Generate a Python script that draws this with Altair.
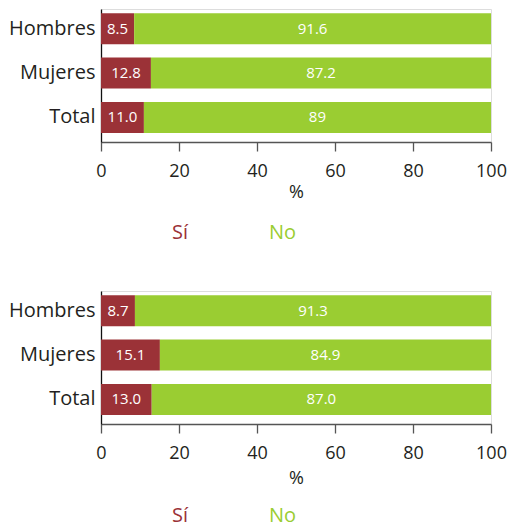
import altair as alt
import pandas as pd

FONT = "Open Sans"

groups = ["Hombres", "Mujeres", "Total"]
answers = ["Sí", "No"]
colors = ["#9b3237", "#9acd32"]

si_1 = [8.5, 12.8, 11.0]
no_1 = [91.6, 87.2, 89.0]
si_lab_1 = ["8.5", "12.8", "11.0"]
no_lab_1 = ["91.6", "87.2", "89"]

si_2 = [8.7, 15.1, 13.0]
no_2 = [91.3, 84.9, 87.0]
si_lab_2 = ["8.7", "15.1", "13.0"]
no_lab_2 = ["91.3", "84.9", "87.0"]

x_ticks = [0, 20, 40, 60, 80, 100]


def make_df(si, no, si_lab, no_lab):
    rows = []
    for g, s, n, sl, nl in zip(groups, si, no, si_lab, no_lab):
        rows.append(dict(grupo=g, resp="Sí", start=0.0, end=s, label=sl))
        rows.append(dict(grupo=g, resp="No", start=s, end=min(s + n, 100.0), label=nl))
    df = pd.DataFrame(rows)
    df["mid"] = (df["start"] + df["end"]) / 2
    return df


def panel(df, legend_y, title_pad):
    y_axis = alt.Axis(ticks=False, domainColor="#111111", domainWidth=1.3,
                      labelFontSize=20, labelColor="#231f20", labelPadding=6,
                      labelFont=FONT)
    y = alt.Y("grupo:N", sort=groups, title=None,
              scale=alt.Scale(paddingInner=0.3, paddingOuter=0.15, align=0.32),
              axis=y_axis)
    x_axis = alt.Axis(values=x_ticks, grid=False, tickSize=9, domainColor="#555555",
                      tickColor="#555555", domainWidth=1.3, tickWidth=1.3,
                      labelFontSize=18, labelColor="#231f20", labelPadding=11,
                      labelFlush=False, labelFont=FONT,
                      title="%", titleFontSize=18, titleFontWeight="normal",
                      titleColor="#231f20", titlePadding=title_pad, titleFont=FONT)
    legend = alt.Legend(orient="none", legendX=51, legendY=legend_y,
                        direction="horizontal", title=None,
                        symbolOpacity=0, symbolSize=0, symbolStrokeWidth=0,
                        labelOffset=0, columnPadding=60,
                        labelFontSize=20, labelFont=FONT,
                        labelColor={"expr": "datum.label == 'Sí' ? '#9b3237' : '#9acd32'"})
    bars = alt.Chart(df).mark_bar().encode(
        x=alt.X("start:Q", scale=alt.Scale(domain=[0, 100], nice=False), axis=x_axis),
        x2="end:Q",
        y=y,
        color=alt.Color("resp:N", scale=alt.Scale(domain=answers, range=colors), legend=legend),
    )
    text = alt.Chart(df).mark_text(color="white", fontSize=15, font=FONT).encode(
        x="mid:Q",
        y=alt.Y("grupo:N", sort=groups),
        text="label:N",
    )
    return alt.layer(bars, text).properties(width=390, height=133)


p1 = panel(make_df(si_1, no_1, si_lab_1, no_lab_1), 214, 3)
p2 = panel(make_df(si_2, no_2, si_lab_2, no_lab_2), 215, 7)

chart = alt.vconcat(p1, p2, spacing=46).resolve_legend(color="independent").properties(
    padding={"left": 0, "top": 0, "right": 0, "bottom": 0}
).configure_view(stroke=None).configure(font=FONT)

chart.save("out.html", embed_options={"renderer": "svg", "actions": False})
